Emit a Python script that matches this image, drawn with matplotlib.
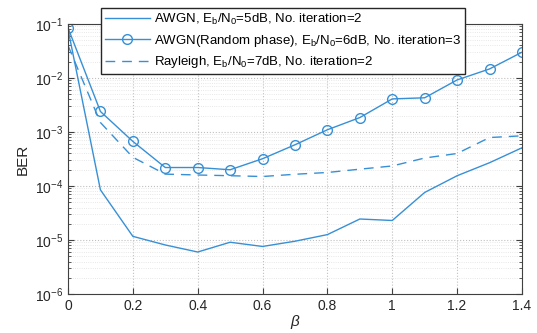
import numpy as np
import matplotlib.pyplot as plt
from matplotlib.ticker import LogLocator, NullFormatter

plt.rcParams['font.family'] = ['Liberation Sans', 'DejaVu Sans']
plt.rcParams['mathtext.fontset'] = 'custom'
plt.rcParams['mathtext.rm'] = 'Liberation Sans'
plt.rcParams['mathtext.it'] = 'Liberation Sans:italic'

# datos
beta = [0, 0.1, 0.2, 0.3, 0.4, 0.5, 0.6, 0.7, 0.8, 0.9, 1.0, 1.1, 1.2, 1.3, 1.4]
ber_awgn = [8.0e-2, 8.5e-5, 1.17e-5, 8.1e-6, 6.0e-6, 9.1e-6, 7.6e-6, 9.5e-6,
            1.26e-5, 2.45e-5, 2.3e-5, 7.6e-5, 1.55e-4, 2.7e-4, 5.1e-4]
ber_rand = [8.5e-2, 2.4e-3, 6.7e-4, 2.2e-4, 2.2e-4, 2.0e-4, 3.2e-4, 5.8e-4,
            1.1e-3, 1.85e-3, 4.1e-3, 4.3e-3, 9.2e-3, 1.47e-2, 3.0e-2]
ber_ray = [4.0e-2, 1.5e-3, 3.4e-4, 1.66e-4, 1.6e-4, 1.55e-4, 1.5e-4, 1.65e-4,
           1.78e-4, 2.05e-4, 2.35e-4, 3.3e-4, 4.0e-4, 7.9e-4, 8.5e-4]

lab_awgn = r'AWGN, E$_{\rm b}$/N$_{\rm 0}$=5dB, No. iteration=2'
lab_rand = r'AWGN(Random phase), E$_{\rm b}$/N$_{\rm 0}$=6dB, No. iteration=3'
lab_ray = r'Rayleigh, E$_{\rm b}$/N$_{\rm 0}$=7dB, No. iteration=2'

col = '#3790d6'

fig = plt.figure(figsize=(5.37, 3.33), dpi=100)
ax = fig.add_axes([0.1266, 0.117, 0.8454, 0.811])
ax.semilogy(beta, ber_awgn, '-', color=col, linewidth=1.0, label=lab_awgn)
ax.semilogy(beta, ber_rand, '-o', color=col, linewidth=1.0, markersize=7,
            markerfacecolor='none', markeredgewidth=1.0, label=lab_rand)
ax.semilogy(beta, ber_ray, '--', color=col, linewidth=1.0, dashes=(7, 5), label=lab_ray)

ax.set_xlim(0, 1.4)
ax.set_ylim(1e-6, 1e-1)
ax.set_xticks([0, 0.2, 0.4, 0.6, 0.8, 1, 1.2, 1.4])
ax.set_xticklabels(['0', '0.2', '0.4', '0.6', '0.8', '1', '1.2', '1.4'])
ax.yaxis.set_major_locator(LogLocator(base=10, numticks=10))
ax.yaxis.set_minor_locator(LogLocator(base=10, subs=np.arange(2, 10), numticks=10))
ax.yaxis.set_minor_formatter(NullFormatter())
ax.tick_params(direction='in', which='both', top=True, right=True,
               colors='#404040', labelsize=10, labelcolor='#262626')
ax.tick_params(which='major', length=4)
ax.tick_params(which='minor', length=2)
for s in ax.spines.values():
    s.set_color('#404040')

ax.grid(True, which='major', linestyle=':', color='#c0c0c0', linewidth=0.8)
ax.grid(True, which='minor', axis='y', linestyle=':', color='#e0e0e0', linewidth=0.6)

ax.set_xlabel(r'$\it{\beta}$', fontsize=11, color='#262626', labelpad=0)
ax.set_ylabel('BER', fontsize=11, color='#262626', labelpad=4)

leg = ax.legend(loc='upper left', bbox_to_anchor=(0.0727, 1.059), borderaxespad=0,
                fontsize=9.5, fancybox=False, framealpha=1, edgecolor='#262626',
                handlelength=3.4, handletextpad=0.3, labelspacing=0.42,
                borderpad=0.3)
leg.get_frame().set_linewidth(1.0)
leg.set_zorder(5)

plt.savefig('out.png', dpi=100)
